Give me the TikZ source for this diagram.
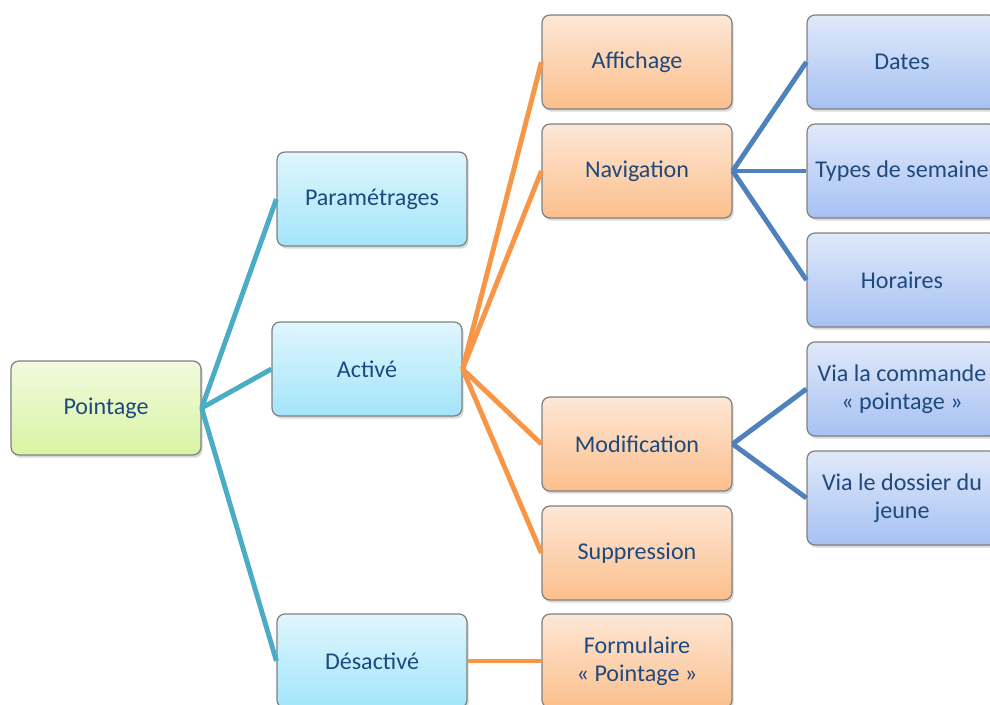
\documentclass[tikz,border=0pt]{standalone}
\usepackage{fontspec}
\setmainfont{Carlito}
\usetikzlibrary{shadows}
\definecolor{txtblue}{HTML}{1F497D}
\definecolor{tealline}{HTML}{4BACC6}
\definecolor{orangeline}{HTML}{F79646}
\definecolor{blueline}{HTML}{4F81BD}
\definecolor{greentop}{HTML}{F2FADF}
\definecolor{greenbot}{HTML}{D7F5A3}
\definecolor{cyantop}{HTML}{DFF6FD}
\definecolor{cyanbot}{HTML}{A3E5FA}
\definecolor{orangetop}{HTML}{FDE7D6}
\definecolor{orangebot}{HTML}{FCBF8C}
\definecolor{bluetop}{HTML}{E0E9FA}
\definecolor{bluebot}{HTML}{A6C1F2}
\begin{document}
\begin{tikzpicture}[
    x=0.02cm, y=-0.02cm,
    box/.style={draw=black!50, line width=0.7pt, rounded corners=4.5pt, minimum width=3.8cm, minimum height=1.88cm, align=center, text=txtblue, font=\fontsize{13.7}{16}\selectfont, drop shadow={opacity=0.3, shadow xshift=1pt, shadow yshift=-1.5pt}},
    greenbox/.style={box, top color=greentop, bottom color=greenbot},
    cyanbox/.style={box, top color=cyantop, bottom color=cyanbot},
    orangebox/.style={box, top color=orangetop, bottom color=orangebot},
    bluebox/.style={box, top color=bluetop, bottom color=bluebot},
    link/.style={line width=2.8pt},
]
    \useasboundingbox (0,0) rectangle (990,704);
    \clip (0,0) rectangle (990,704);

    % Root box
    \node[greenbox] (pointage) at (106,408) {Pointage};

    % Second level
    \node[cyanbox] (param) at (372,199) {Paramétrages};
    \node[cyanbox] (active) at (367,369) {Activé};
    \node[cyanbox] (desact) at (372,661) {Désactivé};

    % Third level
    \node[orangebox] (affich) at (637,62) {Affichage};
    \node[orangebox] (navig) at (637,171) {Navigation};
    \node[orangebox] (modif) at (637,444) {Modification};
    \node[orangebox] (suppr) at (637,553) {Suppression};
    \node[orangebox] (formul) at (637,661) {Formulaire\\« Pointage »};

    % Fourth level
    \node[bluebox] (dates) at (902,62) {Dates};
    \node[bluebox] (types) at (902,171) {Types de semaine};
    \node[bluebox] (horaires) at (902,280) {Horaires};
    \node[bluebox] (viacmd) at (902,389) {Via la commande\\« pointage »};
    \node[bluebox] (viadossier) at (902,498) {Via le dossier du\\jeune};

    % Links
    \draw[link, tealline] (pointage.east) -- (param.west);
    \draw[link, tealline] (pointage.east) -- (active.west);
    \draw[link, tealline] (pointage.east) -- (desact.west);

    \draw[link, orangeline] (active.east) -- (affich.west);
    \draw[link, orangeline] (active.east) -- (navig.west);
    \draw[link, orangeline] (active.east) -- (modif.west);
    \draw[link, orangeline] (active.east) -- (suppr.west);
    \draw[link, orangeline] (desact.east) -- (formul.west);

    \draw[link, blueline] (navig.east) -- (dates.west);
    \draw[link, blueline] (navig.east) -- (types.west);
    \draw[link, blueline] (navig.east) -- (horaires.west);
    \draw[link, blueline] (modif.east) -- (viacmd.west);
    \draw[link, blueline] (modif.east) -- (viadossier.west);
\end{tikzpicture}
\end{document}
